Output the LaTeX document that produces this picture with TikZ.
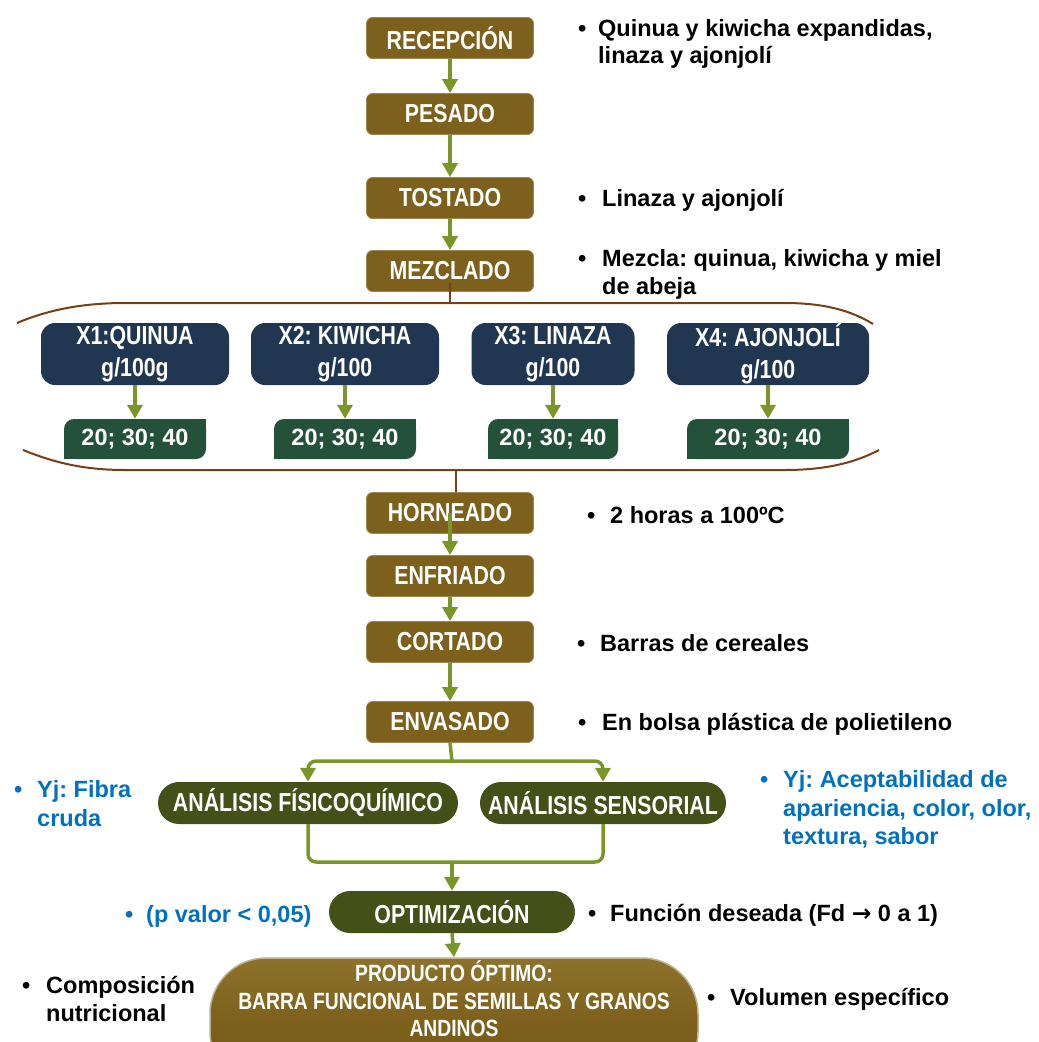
\documentclass[tikz,border=0pt]{standalone}
\usepackage{fontspec}
\setmainfont{Liberation Sans}
\newfontfamily\narrowfont{Liberation Sans}[FakeStretch=0.82]
\newfontfamily\symbolfont{DejaVu Sans}
\usetikzlibrary{arrows.meta}
\frenchspacing

\definecolor{boxbrown}{RGB}{125,96,27}
\definecolor{boxedge}{RGB}{160,135,80}
\definecolor{arrowgreen}{RGB}{122,150,40}
\definecolor{bracebrown}{RGB}{120,62,20}
\definecolor{navy}{RGB}{33,55,81}
\definecolor{pine}{RGB}{35,81,58}
\definecolor{olive}{RGB}{67,80,23}
\definecolor{noteblue}{RGB}{0,112,192}
\definecolor{prodtop}{RGB}{142,114,44}
\definecolor{prodbottom}{RGB}{112,85,22}
\definecolor{prodedge}{RGB}{190,176,140}

\tikzset{
  stepbox/.style={fill=boxbrown, draw=boxedge, line width=0.8, rounded corners=6,
    minimum width=167, minimum height=41, inner sep=0, text=white,
    font=\narrowfont\bfseries\fontsize{26}{30}\selectfont},
  varbox/.style={fill=navy, rounded corners=14, minimum height=62, inner sep=0,
    align=center, text=white,
    font=\narrowfont\bfseries\fontsize{26}{32}\selectfont},
  levelbox/.style={fill=pine, rounded corners=10, minimum height=40, inner sep=0,
    text=white, font=\bfseries\fontsize{23.5}{28}\selectfont},
  pillbox/.style={fill=olive, rounded corners=21, minimum height=42, inner sep=0,
    text=white, font=\narrowfont\bfseries\fontsize{26}{30}\selectfont},
  prodbox/.style={top color=prodtop, bottom color=prodbottom, middle color=boxbrown,
    draw=prodedge, line width=1.5, rounded corners=56, minimum width=488,
    minimum height=130, inner sep=0},
  prodtext/.style={align=center, text=white, inner sep=0,
    font=\narrowfont\bfseries\fontsize{23.5}{27.5}\selectfont},
  gline/.style={draw=arrowgreen, line width=3.5},
  garrow/.style={gline, -{Triangle[width=15pt,length=14pt]}},
  braceline/.style={draw=bracebrown, line width=2},
  note/.style={anchor=base west, inner sep=0,
    font=\bfseries\fontsize{23.5}{28}\selectfont},
  bluenote/.style={note, text=noteblue},
}

\begin{document}
\begin{tikzpicture}[x=1pt, y=-1pt]
\useasboundingbox (0,0) rectangle (1039,1042);

% ---------- main process column ----------
\node[stepbox] (recep)    at (450,38)  {RECEPCIÓN};
\node[stepbox] (pesado)   at (450,114) {PESADO};
\node[stepbox] (tostado)  at (450,198) {TOSTADO};
\node[stepbox] (mezcla)   at (450,271) {MEZCLADO};
\node[stepbox] (horneado) at (450,513) {HORNEADO};
\node[stepbox] (enfriado) at (450,576) {ENFRIADO};
\node[stepbox] (cortado)  at (450,642) {CORTADO};
\node[stepbox] (envasado) at (450,722) {ENVASADO};

\draw[garrow] (recep.south)   -- (pesado.north);
\draw[garrow] (pesado.south)  -- (tostado.north);
\draw[garrow] (tostado.south) -- (mezcla.north);
\draw[garrow] (horneado.center) -- (enfriado.north);
\draw[garrow] (enfriado.south) -- (cortado.north);
\draw[garrow] (cortado.south)  -- (envasado.north);

% ---------- mixture bracket ----------
\coordinate (braceTop) at (450,303);
\coordinate (braceBottom) at (456,470);
\draw[braceline] (17,323) .. controls (50,309) and (85,303) .. (125,303)
  -- (785,303) .. controls (825,303) and (852,311) .. (873,324);
\draw[braceline] (23,450) .. controls (55,463) and (85,470) .. (125,470)
  -- (785,470) .. controls (830,470) and (858,461) .. (879,450);
\draw[braceline] ([yshift=9pt]mezcla.south) -- (braceTop);
\draw[braceline] (braceBottom) -- (braceBottom |- horneado.north);

% ---------- factors and levels ----------
\node[varbox, minimum width=188] (x1) at (135,354) {X1:QUINUA\\g/100g};
\node[varbox, minimum width=188] (x2) at (345,354) {X2: KIWICHA\\g/100};
\node[varbox, minimum width=163] (x3) at (553,354) {X3: LINAZA\\g/100};
\node[varbox, minimum width=202] (x4) at (768,354) {X4: AJONJOLÍ\\g/100};

\foreach \n/\xc/\w in {l1/135/142, l2/345/142, l3/553/130, l4/768/162}{
  \node[levelbox, minimum width=\w] (\n) at (\xc,439) {};
  \fill[pine] (\n.north east) rectangle ++(-12,12);
  \fill[pine] (\n.south west) rectangle ++(12,-12);
  \node[levelbox, fill=none] at (\n.center) {20; 30; 40};
}

\draw[garrow] (x1.south) -- (l1.north);
\draw[garrow] (x2.south) -- (l2.north);
\draw[garrow] (x3.south) -- (l3.north);
\draw[garrow] (x4.south) -- (l4.north);

% ---------- analyses ----------
\node[pillbox, minimum width=300] (fis) at (308,803) {ANÁLISIS FÍSICOQUÍMICO};
\node[pillbox, minimum width=246] (sen) at (603,803) {ANÁLISIS SENSORIAL};
\node[pillbox, minimum width=246] (opt) at (452,912) {OPTIMIZACIÓN};

\coordinate (split) at (452,761);
\coordinate (merge) at (452,862);
\draw[gline] (envasado.south) -- (split);
\draw[garrow, rounded corners=8] (split) -| (fis.north);
\draw[garrow, rounded corners=8] (split) -| (sen.north);
\draw[gline, rounded corners=8] (fis.south) |- (merge);
\draw[gline, rounded corners=8] (sen.south) |- (merge);
\draw[garrow] (merge) -- (opt.north);

% ---------- final product ----------
\begin{scope}
\clip (0,0) rectangle (1039,1042);
\node[prodbox] (prod) at (454,1023) {};
\end{scope}
\node[prodtext] (prodlabel) at (454,999)
  {PRODUCTO ÓPTIMO:\\BARRA FUNCIONAL DE SEMILLAS Y GRANOS\\ANDINOS};
\draw[garrow] (opt.south) -- (prod.north);

% ---------- side notes ----------
\node[note] (b1)  at (578,36)  {•};
\node[note] (t1a) at (598,36)  {Quinua y kiwicha expandidas,};
\node[note] (t1b) at (598,63)  {linaza y ajonjolí};

\node[note] (b2)  at (578,206) {•};
\node[note] (t2)  at (602,206) {Linaza y ajonjolí};

\node[note] (b3)  at (578,266) {•};
\node[note] (t3a) at (602,266) {Mezcla: quinua, kiwicha y miel};
\node[note] (t3b) at (602,294) {de abeja};

\node[note] (b4)  at (587,523) {•};
\node[note] (t4)  at (610,523) {2 horas a 100ºC};

\node[note] (b5)  at (577,651) {•};
\node[note] (t5)  at (600,651) {Barras de cereales};

\node[note] (b6)  at (578,730) {•};
\node[note] (t6)  at (602,730) {En bolsa plástica de polietileno};

\node[bluenote] (b7)  at (14,797) {•};
\node[bluenote] (t7a) at (37,797) {Yj: Fibra};
\node[bluenote] (t7b) at (37,826) {cruda};

\node[bluenote] (b8)  at (760,787) {•};
\node[bluenote] (t8a) at (783,787) {Yj: Aceptabilidad de};
\node[bluenote] (t8b) at (783,816) {apariencia, color, olor,};
\node[bluenote] (t8c) at (783,844) {textura, sabor};

\node[bluenote] (b9)  at (125,922) {•};
\node[bluenote] (t9)  at (146,922) {(p valor < 0,05)};

\node[note] (b10) at (588,921) {•};
\node[note] (t10) at (610,921) {Función deseada (Fd {\symbolfont\bfseries →} 0 a 1)};

\node[note] (b11)  at (22,993)  {•};
\node[note] (t11a) at (46,993)  {Composición};
\node[note] (t11b) at (46,1021) {nutricional};

\node[note] (b12) at (707,1005) {•};
\node[note] (t12) at (730,1005) {Volumen específico};
\end{tikzpicture}
\end{document}
